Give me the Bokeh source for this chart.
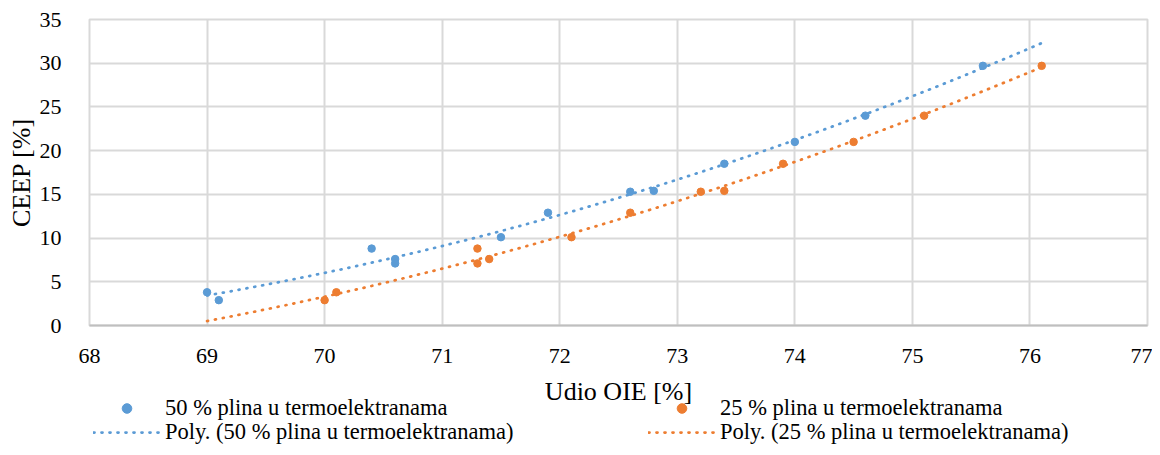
import numpy as np
from bokeh.plotting import figure
from bokeh.layouts import column
from bokeh.models import Range1d, FixedTicker, Legend, LegendItem, Label
from bokeh.embed import file_html
from bokeh.resources import INLINE

# ---- data ----
oie_50 = [69.0, 69.1, 70.4, 70.6, 70.6, 71.5, 71.9, 72.6, 72.8, 73.4, 74.0, 74.6, 75.6]
ceep_50 = [3.8, 2.9, 8.8, 7.6, 7.1, 10.1, 12.9, 15.3, 15.4, 18.5, 21.0, 24.0, 29.7]
oie_25 = [70.0, 70.1, 71.3, 71.4, 71.3, 72.1, 72.6, 73.2, 73.4, 73.9, 74.5, 75.1, 76.1]
ceep_25 = [2.9, 3.8, 8.8, 7.6, 7.1, 10.1, 12.9, 15.3, 15.4, 18.5, 21.0, 24.0, 29.7]
trend_span_50 = [69.0, 76.1]
trend_span_25 = [69.0, 76.1]
x_ticks = [68, 69, 70, 71, 72, 73, 74, 75, 76, 77]
y_ticks = [0, 5, 10, 15, 20, 25, 30, 35]
label_50 = "50 % plina u termoelektranama"
label_25 = "25 % plina u termoelektranama"
poly_50 = "Poly. (50 % plina u termoelektranama)"
poly_25 = "Poly. (25 % plina u termoelektranama)"
x_title = "Udio OIE [%]"
y_title = "CEEP [%]"

BLUE = "#5B9BD5"
ORANGE = "#ED7D31"
GRID = "#d9d9d9"
FONT = "Liberation Serif"
DOT = "1 7"
FW, FH = 1058, 306
BL, BR = 89, 5

# ---------------- main chart ----------------
p = figure(frame_width=FW, frame_height=FH, output_backend="svg", toolbar_location=None,
           x_range=Range1d(x_ticks[0], x_ticks[-1]), y_range=Range1d(y_ticks[0], y_ticks[-1]),
           min_border_left=BL, min_border_right=BR, min_border_top=19, min_border_bottom=45)
p.background_fill_color = "white"
p.border_fill_color = "white"
p.outline_line_color = GRID
p.outline_line_width = 2

p.xaxis.ticker = FixedTicker(ticks=x_ticks)
p.yaxis.ticker = FixedTicker(ticks=y_ticks)
p.axis.major_tick_line_color = None
p.axis.minor_tick_line_color = None
p.axis.major_label_text_font = FONT
p.axis.major_label_text_font_size = "22px"
p.axis.major_label_text_color = "black"
p.axis.axis_label_text_font = FONT
p.axis.axis_label_text_font_size = "26px"
p.axis.axis_label_text_font_style = "normal"
p.axis.axis_label_text_color = "black"
p.xaxis.axis_line_color = "#bfbfbf"
p.xaxis.axis_line_width = 2
p.yaxis.axis_line_color = None
p.xaxis.major_label_standoff = 17
p.yaxis.major_label_standoff = 22
p.yaxis.axis_label = y_title
p.yaxis.axis_label_standoff = 1

p.xgrid.grid_line_color = GRID
p.ygrid.grid_line_color = GRID
p.xgrid.grid_line_width = 2
p.ygrid.grid_line_width = 2

# trend lines (2nd order polynomial fits of the data)
c50 = np.polyfit(oie_50, ceep_50, 2)
c25 = np.polyfit(oie_25, ceep_25, 2)
tx50 = np.linspace(trend_span_50[0], trend_span_50[1], 200)
tx25 = np.linspace(trend_span_25[0], trend_span_25[1], 200)
p.line(tx50, np.polyval(c50, tx50), line_color=BLUE, line_width=2.75,
       line_dash=DOT, line_cap="round")
p.line(tx25, np.polyval(c25, tx25), line_color=ORANGE, line_width=2.75,
       line_dash=DOT, line_cap="round")

p.scatter(oie_50, ceep_50, size=7.5, color=BLUE, line_color=BLUE)
p.scatter(oie_25, ceep_25, size=7.5, color=ORANGE, line_color=ORANGE)

# ---------------- x title + legend strip (same horizontal geometry) ----------------
LH = 76
q = figure(frame_width=FW, frame_height=LH, output_backend="svg", toolbar_location=None,
           x_range=Range1d(0, FW), y_range=Range1d(0, LH),
           x_axis_type=None, y_axis_type=None,
           min_border_left=BL, min_border_right=BR, min_border_top=0, min_border_bottom=0)
q.outline_line_color = None
q.grid.visible = False
q.background_fill_color = "white"
q.border_fill_color = "white"

q.add_layout(Label(x=529, y=55, text=x_title, text_align="center", text_baseline="middle",
                   text_font=FONT, text_font_size="26px", text_color="black"))

# legend-only renderers (hidden; same series, only their legend swatches are shown)
k50 = q.scatter(oie_50, ceep_50, size=7.5, color=BLUE, line_color=BLUE, visible=False)
k25 = q.scatter(oie_25, ceep_25, size=7.5, color=ORANGE, line_color=ORANGE, visible=False)
kl50 = q.line(tx50, np.polyval(c50, tx50), line_color=BLUE, line_width=2.75,
              line_dash=DOT, line_cap="round", visible=False)
kl25 = q.line(tx25, np.polyval(c25, tx25), line_color=ORANGE, line_width=2.75,
              line_dash=DOT, line_cap="round", visible=False)


def make_legend(items, loc):
    return Legend(items=items, orientation="horizontal", location=loc,
                  background_fill_alpha=0, border_line_color=None,
                  label_text_font=FONT, label_text_font_size="22.5px", label_text_color="black",
                  glyph_width=67, glyph_height=24, label_height=24, label_standoff=5,
                  label_width=483, spacing=0, padding=0, margin=0,
                  click_policy="none", inactive_fill_alpha=0)


q.add_layout(make_legend([LegendItem(label=label_50, renderers=[k50]),
                          LegendItem(label=label_25, renderers=[k25])], (4, 25)))
q.add_layout(make_legend([LegendItem(label=poly_50, renderers=[kl50]),
                          LegendItem(label=poly_25, renderers=[kl25])], (4, 1)))

layout = column(p, q, spacing=0)
open("out.html", "w").write(file_html(layout, INLINE))
